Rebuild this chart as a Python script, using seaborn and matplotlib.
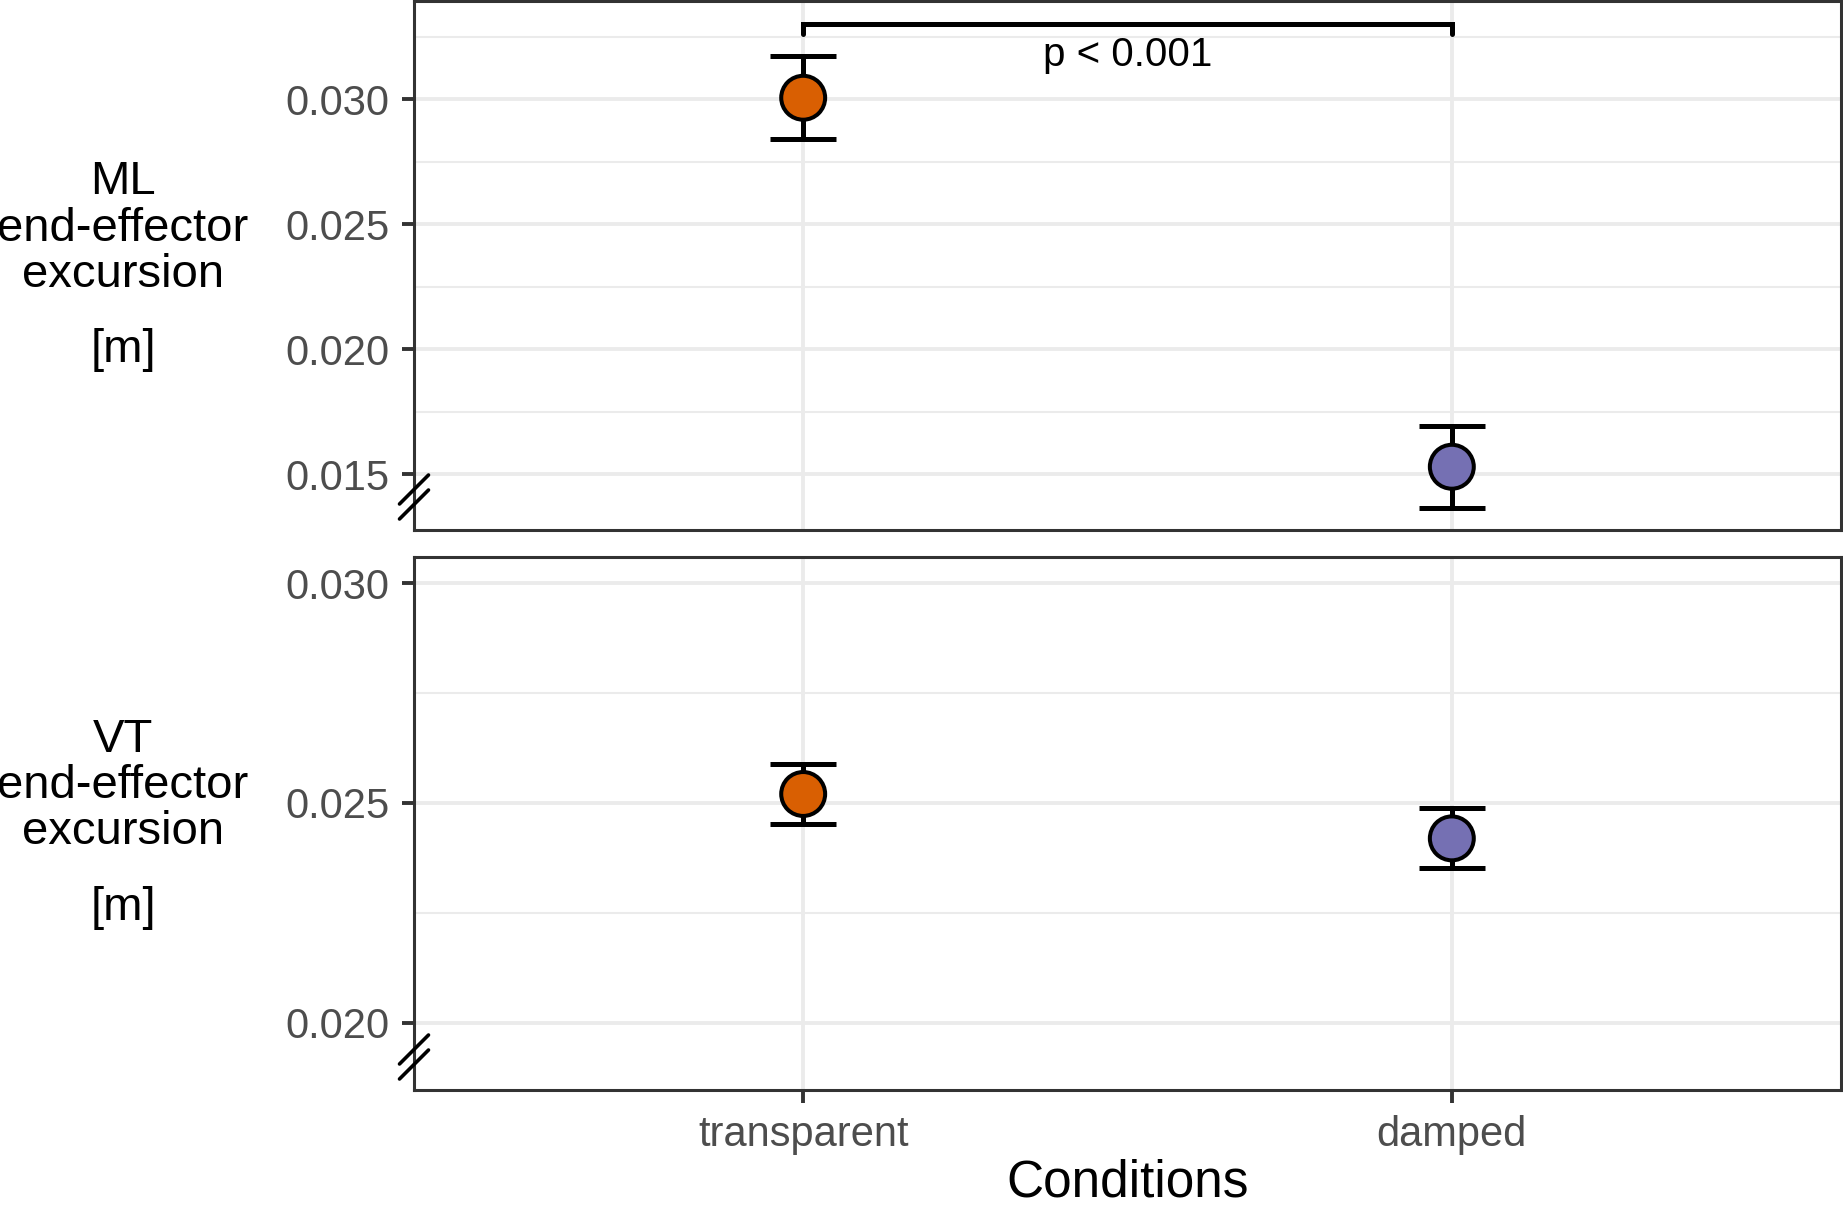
import pandas as pd
import seaborn as sns
import matplotlib.pyplot as plt
from matplotlib.ticker import MultipleLocator, FormatStrFormatter

conditions = ['transparent', 'damped']
colors = ['#D95F02', '#7570B3']

ml_mean = [0.03006, 0.01530]
ml_err = [0.00166, 0.00165]
vt_mean = [0.02520, 0.02419]
vt_err = [0.00068, 0.00068]

ml_ticks = [0.015, 0.020, 0.025, 0.030]
vt_ticks = [0.020, 0.025, 0.030]
p_label = 'p < 0.001'

sns.set_style('white')
plt.rcParams['font.family'] = ['Liberation Sans', 'DejaVu Sans']

W, H = 1843, 1209
fig = plt.figure(figsize=(W / 100, H / 100), dpi=100)

left_px, right_px = 414, 1841
panels = [
    # top px, bottom px, means, errors, ylim, ticks, label lines
    (1.5, 530, ml_mean, ml_err, (0.01277, 0.03391), ml_ticks,
     ['ML', 'end-effector', 'excursion', '[m]']),
    (557, 1090, vt_mean, vt_err, (0.018465, 0.030592), vt_ticks,
     ['VT', 'end-effector', 'excursion', '[m]']),
]

axes = []
for i, (top, bot, mean, err, ylim, ticks, label) in enumerate(panels):
    ax = fig.add_axes([left_px / W, 1 - bot / H, (right_px - left_px) / W, (bot - top) / H])
    axes.append(ax)
    df = pd.DataFrame({'condition': conditions, 'mean': mean, 'err': err})

    ax.errorbar(df['condition'], df['mean'], yerr=df['err'], fmt='none',
                ecolor='black', elinewidth=3.6, capsize=23.5, capthick=3.6, zorder=3)
    sns.scatterplot(data=df, x='condition', y='mean', hue='condition',
                    palette=colors, s=1000, edgecolor='black', linewidth=2.9,
                    legend=False, ax=ax, zorder=4)

    ax.set_xlim(-0.6, 1.6)
    ax.set_ylim(*ylim)
    ax.set_yticks(ticks)
    ax.yaxis.set_minor_locator(MultipleLocator(0.0025))
    ax.yaxis.set_major_formatter(FormatStrFormatter('%.3f'))
    ax.set_xlabel('')
    ax.set_ylabel('')

    ax.set_axisbelow(True)
    ax.grid(which='major', color='#EBEBEB', lw=2.8)
    ax.grid(which='minor', axis='y', color='#EBEBEB', lw=1.5)
    for s in ax.spines.values():
        s.set_color('#333333')
        s.set_linewidth(2.2)

    ax.tick_params(axis='y', which='major', length=9, width=2.8, color='#333333',
                   labelsize=30, labelcolor='#4D4D4D', pad=8.5, left=True)
    ax.tick_params(axis='y', which='minor', length=0)
    if i == 0:
        ax.tick_params(axis='x', length=0, labelbottom=False)
    else:
        ax.tick_params(axis='x', length=9, width=2.8, color='#333333',
                       labelsize=30, labelcolor='#4D4D4D', pad=9, bottom=True)

    # axis break marks
    ax_w, ax_h = right_px - left_px, bot - top
    for off in (-7.5, 7.5):
        xs = [-14.5 / ax_w, 14.5 / ax_w]
        ys = [(33 + off - 14.5) / ax_h, (33 + off + 14.5) / ax_h]
        ax.plot(xs, ys, transform=ax.transAxes, color='black', lw=2.6,
                clip_on=False, zorder=6)

    # y label lines
    center = (top + bot) / 2
    for dy, txt in zip([-84, -37, 9, 84], label):
        fig.text(123 / W, 1 - (center + dy) / H, txt, ha='center', va='center',
                 fontsize=34, color='black')

# significance bracket
ax = axes[0]
ax.plot([0, 0, 1, 1], [0.03261, 0.03300, 0.03300, 0.03261], color='black',
        lw=3.6, solid_joinstyle='miter', solid_capstyle='round', zorder=5)
ax.text(0.5, 0.03177, p_label, ha='center', va='center', fontsize=29, color='black')

fig.text((left_px + right_px) / 2 / W, 1.5 / H, 'Conditions', ha='center',
         va='bottom', fontsize=37, color='black')

fig.savefig('out.png', dpi=100)
